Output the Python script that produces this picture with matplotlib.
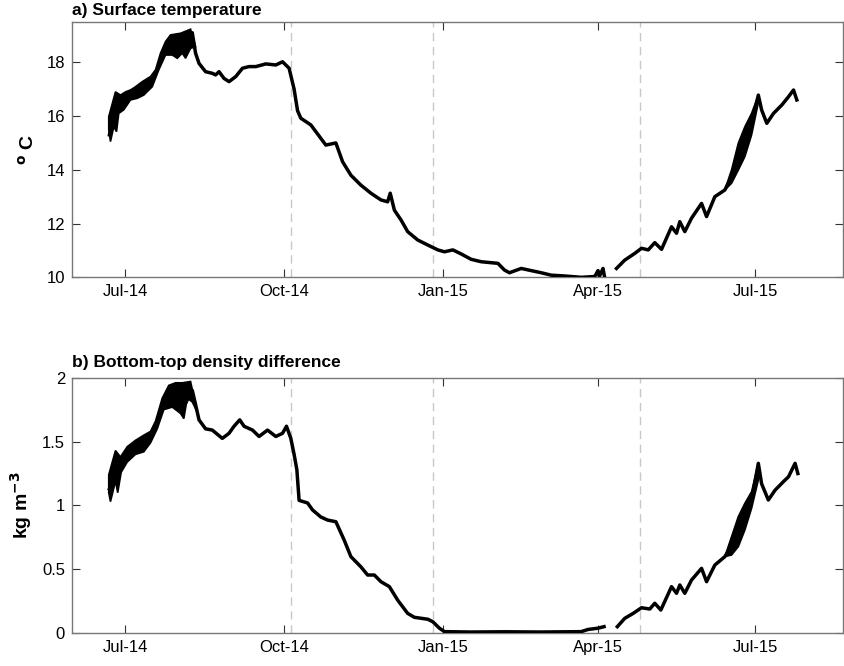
import numpy as np
import matplotlib
matplotlib.use('Agg')
import matplotlib.pyplot as plt
import matplotlib.dates as mdates

plt.rcParams['font.family'] = ['Liberation Sans', 'DejaVu Sans']

START = np.datetime64('2014-07-01')
nan = np.nan

# days since 1 Jul 2014
temp_days = [-9.3, -7.5, -4.8, -2.9, 0, 5.8, 11.6, 17.4, 20.3, 24.2, 29.0, 31.9, 33.8, 36.6, 38.7,
             40.6, 42.6, 46.4, 50.3, 52.2, 54.2, 57.1, 60.0, 63.9, 67.8, 71.6, 75.5, 81.3, 87.1,
             91.0, 94.8, 97.7, 99.7, 101.6, 107.4, 110.3, 116.1, 121.9, 125.8, 130.6, 136.4,
             142.2, 148.0, 151.9, 153.4, 155.8, 159.7, 163.5, 169.3, 175.2, 181.0, 184.8, 189.7,
             194.5, 200.3, 206.1, 215.8, 219.6, 222.5, 229.3, 235.1, 240.9, 246.7, 254.5, 264.1,
             271.9, 273.8, 274.6, 276.7, 277.5, nan,
             284.5, 289.3, 295.1, 299.0, 302.9, 306.7, 310.6, 316.4, 319.3, 321.2, 324.1, 328.0,
             333.8, 336.7, 341.5, 347.3, 351.2, 355.1, 358.9, 362.8, 366.7, 368.6, 371.6, 375.5,
             380.3, 384.2, 387.1, 389.0]
temp = [15.3, 15.8, 16.2, 16.3, 16.6, 16.9, 17.1, 17.6, 18.0, 18.55, 18.65, 18.7, 18.6, 18.8, 19.1,
        18.34, 17.96, 17.65, 17.59, 17.53, 17.65, 17.4, 17.28, 17.47, 17.78, 17.84, 17.84, 17.94, 17.9,
        18.02, 17.78, 17.0, 16.2, 15.92, 15.67, 15.42, 14.92, 15.0, 14.3, 13.8, 13.43,
        13.13, 12.88, 12.81, 13.13, 12.5, 12.13, 11.7, 11.39, 11.2, 11.02, 10.95, 11.02,
        10.87, 10.67, 10.58, 10.52, 10.27, 10.17, 10.33, 10.25, 10.17, 10.08, 10.05, 10.0,
        10.03, 10.25, 10.03, 10.33, 10.05, nan,
        10.33, 10.64, 10.89, 11.08, 11.02, 11.29, 11.04, 11.88, 11.64, 12.07, 11.7, 12.2,
        12.75, 12.26, 13.0, 13.25, 13.75, 14.5, 15.05, 15.7, 16.78, 16.23, 15.73, 16.1,
        16.41, 16.72, 16.97, 16.6]

# upper / lower edges of the thick (tidally noisy) parts of the trace
temp_up1_days = [-9.7, -5.8, -2.9, 0, 2.9, 5.8, 9.7, 14.5, 17.4, 20.3, 23.2, 26.1, 31.9, 37.7, 40.6]
temp_up1 = [15.98, 16.9, 16.78, 16.9, 16.97, 17.09, 17.28, 17.47, 17.72, 18.34, 18.77, 19.02,
            19.08, 19.23, 18.58]
temp_lo1_days = [-9.7, -8.7, -6.8, -5.2, -3.9, -1.0, 2.9, 6.8, 10.6, 15.5, 19.3, 23.2, 27.1,
                 30.0, 32.9, 34.8, 37.7, 40.6]
temp_lo1 = [15.5, 15.05, 15.6, 15.42, 16.1, 16.23, 16.6, 16.66, 16.78, 17.09, 17.72, 18.27,
            18.27, 18.15, 18.34, 18.15, 18.52, 18.58]
temp_band2_days = [347.3, 351.2, 355.1, 358.9, 362.8, 366.7]
temp_up2 = [13.25, 14.0, 14.99, 15.6, 16.1, 16.78]
temp_lo2 = [13.25, 13.5, 13.99, 14.49, 15.3, 16.5]

dens_days = [-9.3, -4.8, 0, 5.8, 11.6, 17.4, 21.3, 26.1, 29.0, 34.8, 38.7, 40.6, 42.6, 46.4, 50.3,
             56.1, 60.0, 62.9, 66.2, 68.7, 73.6, 77.4, 82.3, 87.1, 91.0, 93.3, 95.8, 97.7, 99.3,
             100.6, 105.5, 108.4, 113.2, 117.1, 121.9, 126.7, 130.6, 136.4, 140.3, 144.2, 148.0,
             152.9, 157.7, 163.5, 167.4, 175.2, 178.1, 181.9, 184.8, 200, 220, 240, 264.1, 268.0,
             273.8, 277.3, nan,
             285.0, 289.3, 294.2, 299.0, 303.8, 306.7, 310.2, 316.4, 319.3, 321.2, 324.1, 328.0,
             333.8, 336.7, 341.5, 347.3, 351.2, 355.1, 358.9, 362.8, 366.7, 368.6, 372.5, 376.4,
             381.2, 384.2, 388.0, 389.6]
dens = [1.13, 1.27, 1.40, 1.45, 1.50, 1.62, 1.75, 1.85, 1.82, 1.80, 1.90, 1.79, 1.67, 1.60, 1.59,
        1.525, 1.565, 1.62, 1.67, 1.62, 1.59, 1.54, 1.59, 1.54, 1.565, 1.62, 1.525, 1.40, 1.28,
        1.04, 1.02, 0.965, 0.91, 0.886, 0.873, 0.73, 0.60, 0.52, 0.456, 0.456, 0.404,
        0.365, 0.26, 0.156, 0.125, 0.11, 0.09, 0.04, 0.013, 0.01, 0.012, 0.01, 0.013, 0.03,
        0.04, 0.052, nan,
        0.052, 0.117, 0.156, 0.2, 0.19, 0.235, 0.182, 0.365, 0.313, 0.378, 0.313, 0.417,
        0.508, 0.404, 0.534, 0.60, 0.68, 0.80, 0.91, 1.04, 1.33, 1.17, 1.043, 1.12,
        1.186, 1.225, 1.33, 1.25]

dens_up1_days = [-9.7, -5.8, -2.9, 1.0, 5.8, 10.6, 14.5, 17.4, 21.3, 25.1, 29.0, 32.9, 37.7, 41.6]
dens_up1 = [1.24, 1.43, 1.38, 1.46, 1.51, 1.55, 1.58, 1.66, 1.84, 1.94, 1.96, 1.96, 1.97, 1.73]
dens_lo1_days = [-9.7, -8.7, -5.8, -4.5, -2.5, 1.0, 5.8, 10.6, 14.5, 18.4, 22.2, 27.1, 31.9,
                 33.8, 35.8, 38.7, 41.6]
dens_lo1 = [1.1, 1.03, 1.19, 1.10, 1.26, 1.34, 1.40, 1.42, 1.49, 1.60, 1.75, 1.77, 1.72,
            1.68, 1.84, 1.81, 1.73]
dens_band2_days = [347.3, 351.2, 355.1, 358.9, 362.8, 366.7]
dens_up2 = [0.60, 0.756, 0.913, 1.017, 1.108, 1.33]
dens_lo2 = [0.60, 0.613, 0.678, 0.808, 0.978, 1.2]

event_dates = ['2014-10-05', '2014-12-26', '2015-04-25']
tick_dates = ['2014-07-01', '2014-10-01', '2015-01-01', '2015-04-01', '2015-07-01']

t0 = mdates.date2num(START)


def to_x(days):
    return t0 + np.array(days, dtype=float)


def band(ax, up_days, up, lo_days, lo):
    xs = np.concatenate([to_x(up_days), to_x(lo_days)[::-1]])
    ys = np.concatenate([up, lo[::-1]])
    ax.fill(xs, ys, color='k', lw=1.2, zorder=3)


fig = plt.figure(figsize=(8.44, 6.66), dpi=100)
ax1 = fig.add_axes([0.0853, 0.5836, 0.914, 0.3834])
ax2 = fig.add_axes([0.0853, 0.0491, 0.914, 0.3838])

panels = [
    (ax1, temp_days, temp, [(temp_up1_days, temp_up1, temp_lo1_days, temp_lo1),
                            (temp_band2_days, temp_up2, temp_band2_days, temp_lo2)],
     (10, 19.5), [10, 12, 14, 16, 18], ['10', '12', '14', '16', '18'],
     'a) Surface temperature', '$\\mathbf{^o}$ C', 5),
    (ax2, dens_days, dens, [(dens_up1_days, dens_up1, dens_lo1_days, dens_lo1),
                            (dens_band2_days, dens_up2, dens_band2_days, dens_lo2)],
     (0, 2), [0, 0.5, 1, 1.5, 2], ['0', '0.5', '1', '1.5', '2'],
     'b) Bottom-top density difference', 'kg m$^{\\mathbf{-3}}$', 8),
]

for ax, d, v, bands, ylim, yt, ytl, title, ylab, tpad in panels:
    for ed in event_dates:
        ax.axvline(mdates.date2num(np.datetime64(ed)), color='#c8c8c8', lw=1.0,
                   dashes=(6, 4), zorder=1)
    for b in bands:
        band(ax, *b)
    ax.plot(to_x(d), v, color='k', lw=2.5, zorder=4)

    ax.set_xlim(mdates.date2num(np.datetime64('2014-05-31')),
                mdates.date2num(np.datetime64('2015-08-21')))
    ax.set_ylim(*ylim)
    ax.set_yticks(yt)
    ax.set_yticklabels(ytl)
    ax.set_xticks([mdates.date2num(np.datetime64(t)) for t in tick_dates])
    ax.xaxis.set_major_formatter(mdates.DateFormatter('%b-%y'))
    ax.tick_params(direction='in', length=6, width=0.8, top=True, right=True,
                   labelsize=12, colors='#333333', labelcolor='k', pad=5)
    for s in ax.spines.values():
        s.set_color('#777777')
        s.set_linewidth(1.0)
    ax.set_title(title, loc='left', fontsize=12.5, fontweight='bold', pad=tpad, x=0.0)
    ax.set_ylabel(ylab, fontsize=14, fontweight='bold', labelpad=6)

fig.savefig('out.png', dpi=100)
